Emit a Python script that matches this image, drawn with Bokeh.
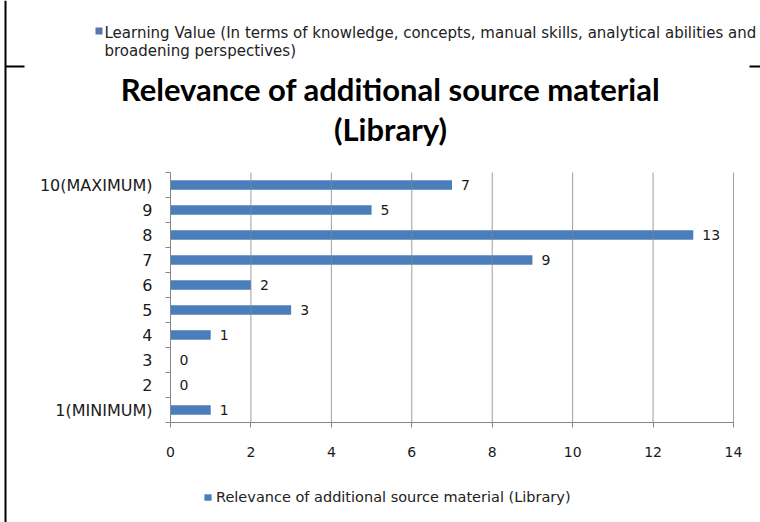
from bokeh.plotting import figure
from bokeh.models import (Label, Legend, LegendItem, Range1d, ColumnDataSource, LinearAxis,
                          FixedTicker, Span, BoxAnnotation)
from bokeh.core.properties import value
from bokeh.embed import file_html
from bokeh.resources import INLINE

# ---- data ----
categories = ["1(MINIMUM)", "2", "3", "4", "5", "6", "7", "8", "9", "10(MAXIMUM)"]
counts = [1, 0, 0, 1, 3, 2, 9, 13, 5, 7]
x_ticks = [0, 2, 4, 6, 8, 10, 12, 14]
series_name = "Relevance of additional source material (Library)"
title_lines = ["Relevance of additional source material", "(Library)"]
other_series_lines = [
    "Learning Value (In terms of knowledge, concepts, manual skills, analytical abilities and",
    "broadening perspectives)",
]

# ---- layout (pixels) ----
W, H = 760, 522
PL, PR, PT, PB = 170, 733, 172, 422      # plot area edges
XMAX = x_ticks[-1]
n = len(categories)
pxx = (PR - PL) / XMAX
pxy = (PB - PT) / n


def X(px):
    return (px - PL) / pxx


def Y(py):
    return 0.5 + (PB - py) / pxy


BAR = "#4A7EBB"
GRID = "#868686"
SMALL_FONT = "DejaVu Sans"
TXT = "#1a1a1a"

ypos = list(range(1, n + 1))
edges = [i + 0.5 for i in range(n + 1)]
src = ColumnDataSource(dict(y=ypos, val=counts, lab=[str(c) for c in counts]))

p = figure(
    x_range=Range1d(X(0), X(W)), y_range=Range1d(Y(H), Y(0)),
    width=W, height=H, x_axis_type=None, y_axis_type=None,
    output_backend="svg", toolbar_location=None, min_border=0,
    outline_line_color=None, background_fill_color="white", border_fill_color="white",
)
p.xgrid.visible = False
p.ygrid.visible = False

bars = p.hbar(y="y", right="val", height=0.38, source=src, fill_color=BAR, line_color=None)
# vertical gridlines
p.segment(x0=x_ticks[1:], x1=x_ticks[1:], y0=edges[0], y1=edges[-1],
          line_color=GRID, line_width=1, line_alpha=0.8)
p.text(x="val", y="y", text="lab", source=src, x_offset=9, text_baseline="middle",
       text_align="left", text_font=value(SMALL_FONT), text_font_size="14px", text_color=TXT)

# axes
xaxis = LinearAxis(fixed_location=edges[0], bounds=(0, XMAX), ticker=FixedTicker(ticks=x_ticks))
xaxis.axis_line_color = GRID
xaxis.major_tick_line_color = GRID
xaxis.major_tick_out = 5
xaxis.major_tick_in = 0
xaxis.minor_tick_out = 0
xaxis.minor_tick_in = 0
xaxis.major_label_standoff = 19
xaxis.major_label_text_font = SMALL_FONT
xaxis.major_label_text_font_size = "14px"
xaxis.major_label_text_color = TXT
p.add_layout(xaxis, "below")

yaxis = LinearAxis(fixed_location=0, bounds=(edges[0], edges[-1]),
                   ticker=FixedTicker(ticks=ypos, minor_ticks=edges),
                   major_label_overrides={yy: c for yy, c in zip(ypos, categories)})
yaxis.axis_line_color = GRID
yaxis.major_tick_out = 0
yaxis.major_tick_in = 0
yaxis.minor_tick_out = 5
yaxis.minor_tick_in = 0
yaxis.minor_tick_line_color = GRID
yaxis.major_label_standoff = 13
yaxis.major_label_text_font = SMALL_FONT
yaxis.major_label_text_font_size = "16px"
yaxis.major_label_text_color = TXT
p.add_layout(yaxis, "left")

# title
for line, cy in zip(title_lines, (88, 128)):
    p.add_layout(Label(x=X(390), y=Y(cy), text=line, text_align="center", text_baseline="middle",
                       text_font="Lato", text_font_style="bold", text_font_size="31px",
                       text_color="#000000"))

# top legend entry (other series, partly cut in the source document)
p.add_layout(BoxAnnotation(left=X(95), right=X(102), top=Y(27), bottom=Y(34),
                           fill_color="#5574B0", fill_alpha=1, line_color=None))
for line, cy in zip(other_series_lines, (32, 50)):
    p.add_layout(Label(x=X(104), y=Y(cy), text=line, text_align="left",
                       text_baseline="middle", text_font=SMALL_FONT, text_font_size="15px",
                       text_color="#222222"))

# bottom legend
bot_leg = Legend(items=[LegendItem(label=series_name, renderers=[bars])],
                 location=(203, H - 506), orientation="horizontal", glyph_width=9, glyph_height=8,
                 label_standoff=4, padding=0, margin=0, spacing=0, border_line_color=None,
                 background_fill_alpha=0, label_text_font=SMALL_FONT, label_text_font_size="14.5px",
                 label_height=18, label_text_color="#222222")
p.add_layout(bot_leg)

# document border lines visible in the source screenshot
p.add_layout(Span(location=X(5), dimension="height", line_color="black", line_width=2))
p.add_layout(BoxAnnotation(left=X(5), right=X(24), top=Y(65), bottom=Y(67),
                           fill_color="black", fill_alpha=1, line_color=None))
p.add_layout(BoxAnnotation(left=X(749), right=X(W), top=Y(65), bottom=Y(67),
                           fill_color="black", fill_alpha=1, line_color=None))

open("out.html", "w").write(file_html(p, INLINE))
